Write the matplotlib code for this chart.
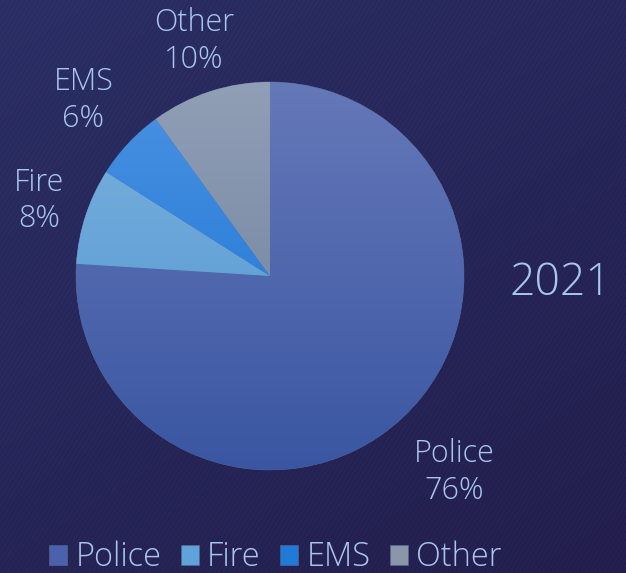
import numpy as np
import matplotlib.pyplot as plt
from matplotlib.colors import LinearSegmentedColormap

plt.rcParams['font.family'] = ['Open Sans', 'DejaVu Sans']

# datos
categorias = ["Police", "Fire", "EMS", "Other"]
valores = [76, 8, 6, 10]
anio = "2021"

# colores (arriba, abajo) para el degradado de cada rebanada
fondo = "#272658"
texto = "#a9c6ee"
colores_medios = ["#4a62ac", "#5fa3db", "#1f7ad8", "#8a96aa"]
colores_arriba = ["#6578b8", "#7db2e0", "#4a92e2", "#909fb6"]
colores_abajo = ["#3a56a2", "#4c93cd", "#1570d2", "#6c7c99"]
dist_etiquetas = [1.39, 1.25, 1.32, 1.27]

fig = plt.figure(figsize=(6.26, 5.73), dpi=100)
fig.patch.set_facecolor(fondo)

# fondo con degradado y rayas diagonales
bg = fig.add_axes([0, 0, 1, 1])
bg.set_axis_off()
grad = np.linspace(0, 1, 200).reshape(-1, 1) * np.ones((1, 200))
gx = np.linspace(0, 1, 200).reshape(1, -1)
mezcla = 0.6 * grad + 0.4 * gx
cmap_bg = LinearSegmentedColormap.from_list("bg", ["#2c3067", "#241f4f"])
bg.imshow(mezcla, cmap=cmap_bg, extent=[0, 1, 0, 1], aspect="auto", origin="upper")
for k in np.arange(-1.2, 1.2, 0.0075):
    bg.plot([k, k + 0.55], [0, 1], color="#000000", alpha=0.10, lw=0.6)
bg.set_xlim(0, 1)
bg.set_ylim(0, 1)

# pastel
ax = fig.add_axes([0.1214, 0.1798, 0.6198, 0.6771])
ax.set_axis_off()
wedges, _ = ax.pie(valores, colors=colores_medios, startangle=90, counterclock=False,
                   radius=1, wedgeprops=dict(linewidth=0))
ax.set_xlim(-1, 1)
ax.set_ylim(-1, 1)

for w, c1, c2 in zip(wedges, colores_arriba, colores_abajo):
    cm = LinearSegmentedColormap.from_list("g", [c1, c2])
    im = ax.imshow(np.linspace(0, 1, 256).reshape(-1, 1), cmap=cm,
                   extent=[-1, 1, -1, 1], aspect="auto", origin="upper", zorder=2)
    im.set_clip_path(w)
    w.set_zorder(1)

# bordes finos entre rebanadas
for w in wedges:
    w.set_edgecolor("#5a6a90")
    w.set_linewidth(0.4)

# etiquetas
for w, cat, v, d in zip(wedges, categorias, valores, dist_etiquetas):
    ang = np.deg2rad((w.theta1 + w.theta2) / 2)
    ax.text(d * np.cos(ang), d * np.sin(ang), f"{cat}\n{v}%", ha="center", va="center",
            color=texto, fontsize=22, fontweight="light", linespacing=1.2, clip_on=False)

fig.text(0.896, 0.504, anio, color=texto, fontsize=32, fontweight="light",
         ha="center", va="center")

leg = fig.legend(wedges, categorias, loc="center", bbox_to_anchor=(0.44, 0.027),
                 ncol=4, frameon=False, labelcolor=texto,
                 prop=dict(size=23.5, weight="light"),
                 handlelength=0.55, handleheight=0.55, handletextpad=0.25, columnspacing=0.6)

fig.savefig("out.png", dpi=100, facecolor=fondo)
